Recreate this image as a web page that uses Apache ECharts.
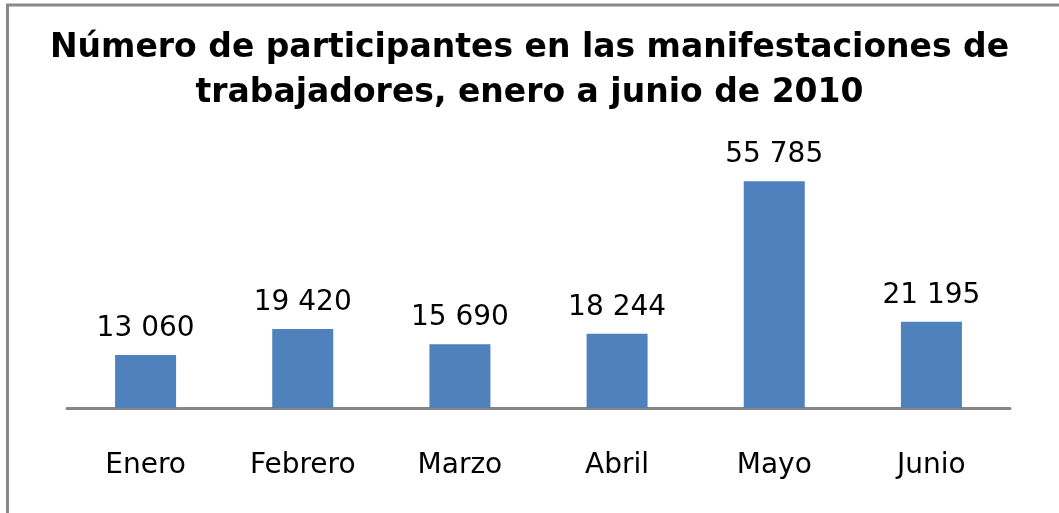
<!DOCTYPE html>
<html>
<head>
<meta charset="utf-8">
<script src="https://cdn.jsdelivr.net/npm/echarts@6/dist/echarts.min.js"></script>
<style>
html, body { margin: 0; padding: 0; background: #fff; }
#chart { width: 1059px; height: 513px; }
</style>
</head>
<body>
<div id="chart"></div>
<script>
var meses = ['Enero', 'Febrero', 'Marzo', 'Abril', 'Mayo', 'Junio'];
var participantes = [13060, 19420, 15690, 18244, 55785, 21195];

var chartDom = document.getElementById('chart');
var myChart = echarts.init(chartDom);

function conEspacio(v) {
    return String(v).replace(/\B(?=(\d{3})+(?!\d))/g, ' ');
}

var option = {
    backgroundColor: '#fff',
    animation: false,
    title: {
        text: 'Número de participantes en las manifestaciones de\ntrabajadores, enero a junio de 2010',
        left: 'center',
        top: 21,
        textStyle: {
            fontFamily: 'DejaVu Sans',
            fontWeight: 'bold',
            fontSize: 33,
            lineHeight: 45,
            color: '#000'
        }
    },
    graphic: [{
        type: 'rect',
        shape: { x: 7.5, y: 5, width: 1200, height: 700 },
        style: { fill: 'none', stroke: '#898989', lineWidth: 3 },
        silent: true
    }],
    grid: {
        left: 67,
        right: 49,
        top: 164,
        bottom: 105
    },
    xAxis: {
        type: 'category',
        data: meses,
        axisLine: { show: true, lineStyle: { color: '#868686', width: 3 } },
        axisTick: { show: false },
        axisLabel: {
            margin: 44,
            fontFamily: 'DejaVu Sans',
            fontSize: 28,
            color: '#000'
        }
    },
    yAxis: {
        type: 'value',
        min: 0,
        max: 60000,
        show: false,
        splitLine: { show: false }
    },
    series: [{
        name: 'Participantes',
        type: 'bar',
        barWidth: 61,
        itemStyle: { color: '#4F81BD' },
        label: {
            show: true,
            position: 'top',
            distance: 12,
            fontFamily: 'DejaVu Sans',
            fontSize: 28,
            color: '#000',
            formatter: function (p) { return conEspacio(p.value); }
        },
        data: participantes
    }]
};

option && myChart.setOption(option);
</script>
</body>
</html>
